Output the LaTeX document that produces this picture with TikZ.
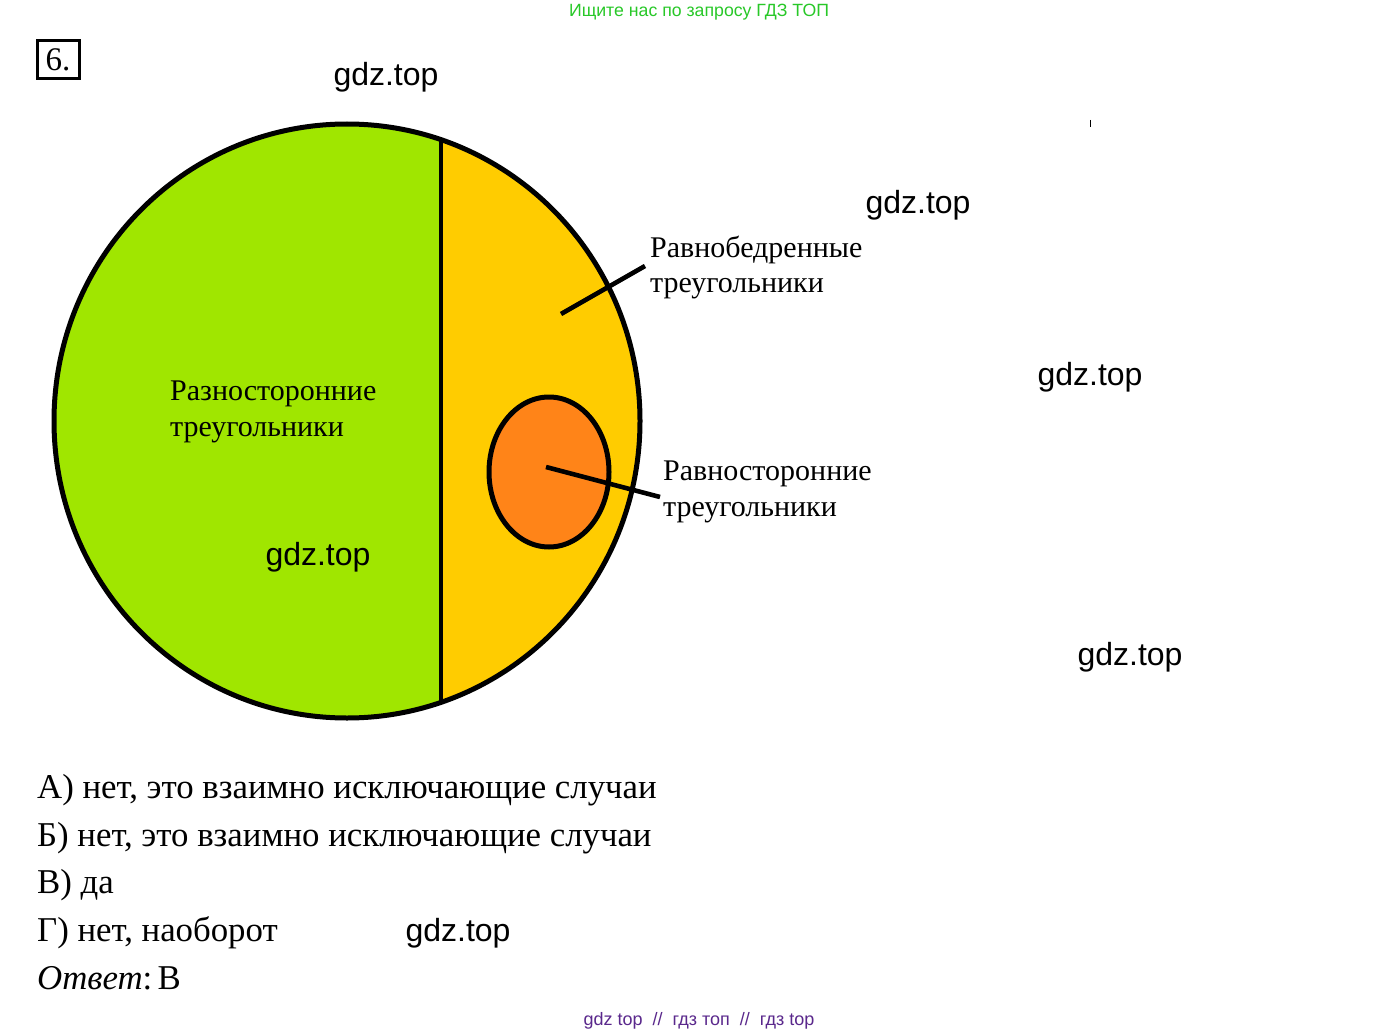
\documentclass[tikz,border=0pt]{standalone}
\usepackage{fontspec}
\setmainfont{Liberation Serif}
\newfontfamily\wmfont{Liberation Sans}
\usetikzlibrary{shapes.geometric}
\definecolor{bigGreen}{RGB}{160,230,0}
\definecolor{bigYellow}{RGB}{255,204,0}
\definecolor{smallOrange}{RGB}{255,132,24}
\definecolor{hdrGreen}{RGB}{40,200,40}
\definecolor{ftrPurple}{RGB}{90,40,140}
\tikzset{
  wm/.style={font=\wmfont\fontsize{32}{34}\selectfont, anchor=center, inner sep=0pt},
  lbl/.style={font=\fontsize{30}{36}\selectfont, anchor=base west, inner sep=0pt, align=left},
  ans/.style={font=\fontsize{34.8}{38}\selectfont, anchor=base west, inner sep=0pt},
  thickline/.style={line width=5pt, black},
}
\begin{document}
\begin{tikzpicture}[x=1pt,y=-1pt]
\useasboundingbox[fill=white] (0,0) rectangle (1400,1035);
% big circle
\begin{scope}
  \clip (347,421) ellipse [x radius=293, y radius=297];
  \fill[bigGreen] (40,100) rectangle (441,740);
  \fill[bigYellow] (441,100) rectangle (660,740);
\end{scope}
\draw[thickline] (347,421) ellipse [x radius=293, y radius=297];
\coordinate (vtop) at (441,140);
\coordinate (vbot) at (441,702);
\draw[thickline, line width=4.6pt] (vtop) -- (vbot);
% small ellipse
\draw[thickline, fill=smallOrange] (549,472) ellipse [x radius=60, y radius=75];
% connectors
\coordinate (c1a) at (561,314);
\coordinate (c1b) at (645,266);
\draw[thickline, line width=4.6pt] (c1a) -- (c1b);
\coordinate (c2a) at (546,467);
\coordinate (c2b) at (660,497);
\draw[thickline, line width=4.6pt] (c2a) -- (c2b);
% labels
\node[lbl] (isoA) at (650,257) {Равнобедренные};
\node[lbl] (isoB) at (650,292) {треугольники};
\node[lbl] (scaA) at (170,400) {Разносторонние};
\node[lbl] (scaB) at (170,436) {треугольники};
\node[lbl] (equA) at (663,480) {Равносторонние};
\node[lbl] (equB) at (663,516) {треугольники};
% problem number
\node[draw, line width=3pt, minimum width=42pt, minimum height=38pt, inner sep=0pt, font=\fontsize{33}{33}\selectfont] (num) at (58,60) {6.};
% header / footer
\node[font=\wmfont\fontsize{17.7}{20}\selectfont, text=hdrGreen, inner sep=0pt] (hdr) at (699,12) {Ищите нас по запросу ГДЗ ТОП};
\node[font=\wmfont\fontsize{18}{20}\selectfont, text=ftrPurple, inner sep=0pt] (ftr) at (699,1021) {gdz top \ // \ гдз топ \ // \ гдз top};
% watermarks
\node[wm] (w1) at (386,77) {gdz.top};
\node[wm] (w2) at (918,205) {gdz.top};
\node[wm] (w3) at (1090,377) {gdz.top};
\node[wm] (w4) at (1130,657) {gdz.top};
\node[wm] (w5) at (318,557) {gdz.top};
\node[wm] (w6) at (458,933) {gdz.top};
% tiny mark
\coordinate (m1) at (1090,120);
\coordinate (m2) at (1090,127);
\draw[line width=1pt] (m1) -- (m2);
% answers
\node[ans] (a1) at (37,798) {А) нет, это взаимно исключающие случаи};
\node[ans] (a2) at (37,846) {Б) нет, это взаимно исключающие случаи};
\node[ans] (a3) at (37,893) {В) да};
\node[ans] (a4) at (37,941) {Г) нет, наоборот};
\node[ans] (a5) at (37,989) {\textit{Ответ}:\hspace{0.15em}В};
\end{tikzpicture}
\end{document}
